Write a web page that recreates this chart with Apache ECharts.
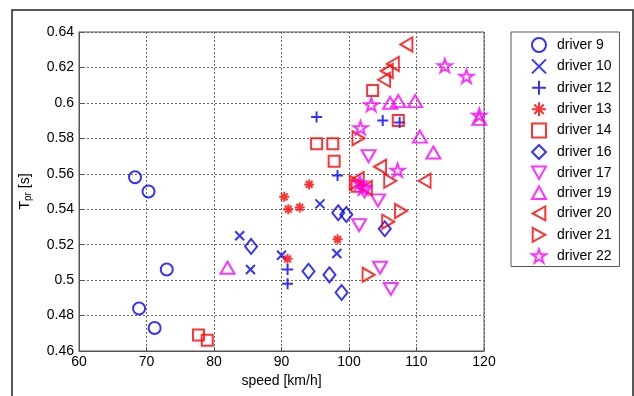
<!DOCTYPE html>
<html>
<head>
<meta charset="utf-8">
<script src="https://cdn.jsdelivr.net/npm/echarts@6/dist/echarts.min.js"></script>
<style>
  html, body { margin: 0; padding: 0; background: #fff; }
  #chart { width: 634px; height: 396px; }
</style>
</head>
<body>
<div id="chart"></div>
<script>
// Reaction time T_pr versus speed, one series per driver: [speed km/h, T_pr s]
const driver9  = [[68.3,0.558],[70.3,0.550],[73.0,0.506],[68.9,0.484],[71.2,0.473]];
const driver10 = [[83.8,0.525],[85.4,0.506],[95.7,0.543],[90.0,0.514],[98.2,0.515]];
const driver12 = [[95.2,0.592],[105.0,0.590],[107.5,0.589],[98.3,0.559],[90.9,0.506],[90.9,0.498]];
const driver13 = [[94.1,0.554],[90.4,0.547],[91.0,0.540],[92.7,0.541],[98.3,0.523],[90.9,0.512]];
const driver14 = [[77.7,0.469],[79.0,0.466],[95.2,0.577],[97.6,0.577],[97.8,0.567],[103.5,0.607],[107.3,0.590],[101.2,0.553]];
const driver16 = [[85.5,0.519],[98.4,0.538],[99.6,0.537],[94.0,0.505],[97.1,0.503],[98.9,0.493],[105.3,0.529]];
const driver17 = [[101.5,0.531],[104.6,0.507],[106.2,0.495],[102.9,0.570],[104.3,0.545],[102.3,0.550]];
const driver19 = [[82.0,0.507],[106.1,0.600],[107.3,0.601],[109.8,0.601],[110.5,0.581],[112.5,0.572],[119.3,0.591]];
const driver20 = [[108.5,0.633],[106.5,0.622],[105.6,0.618],[105.2,0.613],[104.6,0.564],[111.2,0.556],[101.3,0.557],[102.5,0.552]];
const driver21 = [[102.9,0.503],[107.7,0.539],[105.8,0.533],[106.1,0.556],[101.4,0.580],[101.0,0.555]];
const driver22 = [[114.2,0.621],[117.4,0.615],[119.3,0.593],[103.3,0.599],[101.7,0.586],[107.2,0.562],[101.6,0.555],[102.1,0.552]];

const seriesNames = ['driver 9','driver 10','driver 12','driver 13','driver 14','driver 16',
                     'driver 17','driver 19','driver 20','driver 21','driver 22'];
const seriesData = [driver9, driver10, driver12, driver13, driver14, driver16,
                    driver17, driver19, driver20, driver21, driver22];

const xTicks = { min: 60, max: 120, step: 10 };
const yTicks = { min: 0.46, max: 0.64, step: 0.02 };

const BLUE = '#0000ff', RED = '#ff0000', MAGENTA = '#ff00ff';

// MATLAB-like marker shapes
const STAR = 'path://M100,0L122.45,69.1L195.1,69.1L136.3,111.8L158.8,180.9L100,138.2L41.2,180.9L63.7,111.8L4.9,69.1L77.55,69.1Z';
const CROSS = 'path://M0,0L10,10M10,0L0,10';
const PLUS = 'path://M5,0L5,10M0,5L10,5';
const ASTER = 'path://M5,0L5,10M0,5L10,5M1.6,1.6L8.4,8.4M8.4,1.6L1.6,8.4';
const TRI_DOWN = 'path://M0,0L10,0L5,9Z';
const TRI_UP = 'path://M5,0L10,9L0,9Z';
const TRI_LEFT = 'path://M0,5L9,0L9,10Z';
const TRI_RIGHT = 'path://M0,0L9,5L0,10Z';

const styles = [
  { symbol: 'circle',  size: [12,12], color: BLUE },
  { symbol: CROSS,     size: [9,9],   color: BLUE },
  { symbol: PLUS,      size: [11,11], color: BLUE },
  { symbol: ASTER,     size: [10,10], color: RED },
  { symbol: 'rect',    size: [11,11], color: RED },
  { symbol: 'diamond', size: [12,15], color: BLUE },
  { symbol: TRI_DOWN,  size: [14,12], color: MAGENTA },
  { symbol: TRI_UP,    size: [14,12], color: MAGENTA },
  { symbol: TRI_LEFT,  size: [12,14], color: RED },
  { symbol: TRI_RIGHT, size: [12,14], color: RED },
  { symbol: STAR,      size: [14,13], color: MAGENTA }
];

const fontFamily = 'Liberation Sans, Arial, sans-serif';

const series = seriesNames.map((name, i) => ({
  name: name,
  type: 'scatter',
  data: seriesData[i],
  symbol: styles[i].symbol,
  symbolSize: styles[i].size,
  itemStyle: { color: 'transparent', borderColor: styles[i].color, borderWidth: 2 },
  emphasis: { disabled: true },
  animation: false
}));

const chart = echarts.init(document.getElementById('chart'), null, { renderer: 'canvas' });
chart.setOption({
  animation: false,
  grid: { left: 79, top: 32, right: 150, bottom: 45, show: true, borderColor: '#555', borderWidth: 1, backgroundColor: '#fff' },
  xAxis: {
    type: 'value', min: xTicks.min, max: xTicks.max, interval: xTicks.step,
    name: 'speed [km/h]', nameLocation: 'middle', nameGap: 23,
    nameTextStyle: { fontFamily: fontFamily, fontSize: 14, color: '#000' },
    axisLine: { lineStyle: { color: '#555', width: 1 } },
    axisTick: { show: true, inside: true, length: 4, lineStyle: { color: '#555' } },
    axisLabel: { fontFamily: fontFamily, fontSize: 14, color: '#000', margin: 4 },
    splitLine: { show: true, lineStyle: { color: '#666', type: [2, 2], width: 1 } }
  },
  yAxis: {
    type: 'value', min: yTicks.min, max: yTicks.max, interval: yTicks.step,
    name: 'T{sub|pr} [s]', nameLocation: 'middle', nameGap: 46, nameRotate: 90,
    nameTextStyle: {
      fontFamily: fontFamily, fontSize: 14, color: '#000',
      rich: { sub: { fontFamily: fontFamily, fontSize: 10, color: '#000', verticalAlign: 'bottom', padding: [6, 0, 0, 0] } }
    },
    axisLine: { lineStyle: { color: '#555', width: 1 } },
    axisTick: { show: true, inside: true, length: 4, lineStyle: { color: '#555' } },
    axisLabel: {
      fontFamily: fontFamily, fontSize: 14, color: '#000', margin: 5,
      formatter: v => String(+v.toFixed(2))
    },
    splitLine: { show: true, lineStyle: { color: '#666', type: [2, 2], width: 1 } }
  },
  legend: {
    orient: 'vertical', left: 511, top: 32,
    padding: [5, 8, 3, 20],
    itemWidth: 14, itemHeight: 14, itemGap: 5.4,
    backgroundColor: '#fff', borderColor: '#555', borderWidth: 1,
    textStyle: { fontFamily: fontFamily, fontSize: 14, color: '#000', padding: [0, 0, 0, 6] },
    selectedMode: false,
    data: seriesNames
  },
  graphic: [{
    type: 'rect', silent: true, z: -10,
    shape: { x: 12, y: 10, width: 621, height: 400 },
    style: { fill: 'none', stroke: '#222', lineWidth: 1.5 }
  }],
  series: series
});
</script>
</body>
</html>
